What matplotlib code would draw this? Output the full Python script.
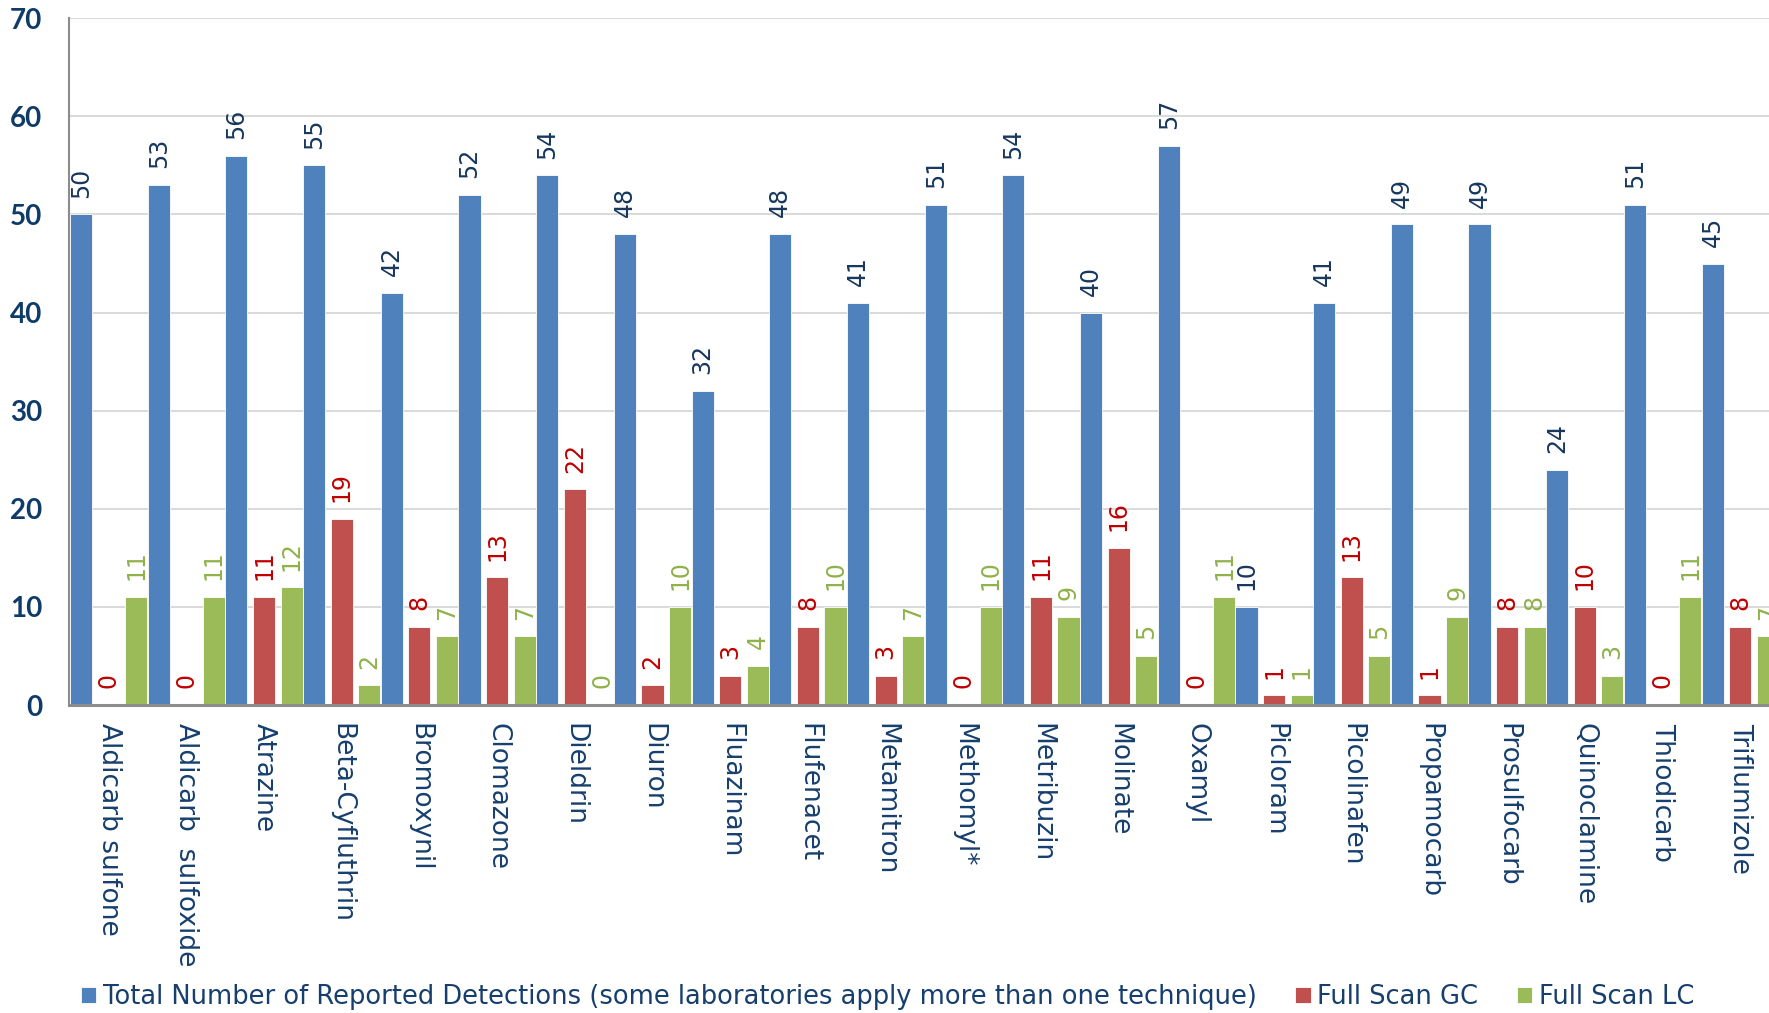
import numpy as np
import matplotlib.pyplot as plt

categories = ['Aldicarb sulfone', 'Aldicarb  sulfoxide', 'Atrazine', 'Beta-Cyfluthrin',
              'Bromoxynil', 'Clomazone', 'Dieldrin', 'Diuron', 'Fluazinam', 'Flufenacet',
              'Metamitron', 'Methomyl*', 'Metribuzin', 'Molinate', 'Oxamyl', 'Picloram',
              'Picolinafen', 'Propamocarb', 'Prosulfocarb', 'Quinoclamine', 'Thiodicarb',
              'Triflumizole']
total_detections = [50, 53, 56, 55, 42, 52, 54, 48, 32, 48, 41, 51, 54, 40, 57, 10,
                    41, 49, 49, 24, 51, 45]
full_scan_gc = [0, 0, 11, 19, 8, 13, 22, 2, 3, 8, 3, 0, 11, 16, 0, 1, 13, 1, 8, 10, 0, 8]
full_scan_lc = [11, 11, 12, 2, 7, 7, 0, 10, 4, 10, 7, 10, 9, 5, 11, 1, 5, 9, 8, 3, 11, 7]
series_names = ['Total Number of Reported Detections (some laboratories apply more than one technique)',
                'Full Scan GC', 'Full Scan LC']

navy = '#173F6E'
bar_colors = ['#4F81BD', '#C0504D', '#9BBB59']
label_colors = ['#17375E', '#C00000', '#8FB24A']

fig = plt.figure(figsize=(17.69, 10.13), dpi=100)
ax = fig.add_axes([0.039, 0.304, 0.9667, 0.678])

x = np.arange(len(categories))
width = 0.285
offsets = [-0.355, 0.0, 0.355]
handles = []
for vals, off, col, lcol in zip([total_detections, full_scan_gc, full_scan_lc],
                                offsets, bar_colors, label_colors):
    bars = ax.bar(x + off, vals, width, color=col, edgecolor='#FFFFFF',
                  linewidth=0.6, zorder=3)
    handles.append(bars)
    for xi, v in zip(x, vals):
        ax.annotate(str(v), (xi + off, v), xytext=(0, 12), textcoords='offset points',
                    rotation=90, ha='center', va='bottom', fontsize=17, color=lcol,
                    annotation_clip=False)

ax.set_ylim(0, 70)
ax.set_xlim(-0.51, 21.5)
ax.set_yticks(np.arange(0, 71, 10))
ax.yaxis.grid(True, color='#D9D9D9', linewidth=1.4)
ax.set_axisbelow(True)
for s in ['top', 'right']:
    ax.spines[s].set_visible(False)
ax.spines['left'].set_color('#8C8C8C')
ax.spines['left'].set_linewidth(1.5)
ax.spines['bottom'].set_color('#8C8C8C')
ax.spines['bottom'].set_linewidth(2.2)
ax.spines['bottom'].set_zorder(4)

ax.tick_params(axis='y', length=0, pad=19, labelcolor='#0F3B69')
for lbl in ax.get_yticklabels():
    lbl.set_fontfamily('Lato')
    lbl.set_fontweight('bold')
    lbl.set_fontsize(20)

ax.set_xticks(x)
ax.set_xticklabels(categories, rotation=-90, ha='center', va='top', fontsize=19, color=navy)
ax.tick_params(axis='x', length=0, pad=13)

fig.legend(handles, series_names, loc='lower left', bbox_to_anchor=(0.037, -0.012),
           ncol=3, frameon=False, fontsize=18.5, handlelength=0.6, handleheight=0.6,
           handletextpad=0.26, columnspacing=1.5, borderaxespad=0.2, labelcolor=navy)

fig.savefig('out.png', dpi=100)
